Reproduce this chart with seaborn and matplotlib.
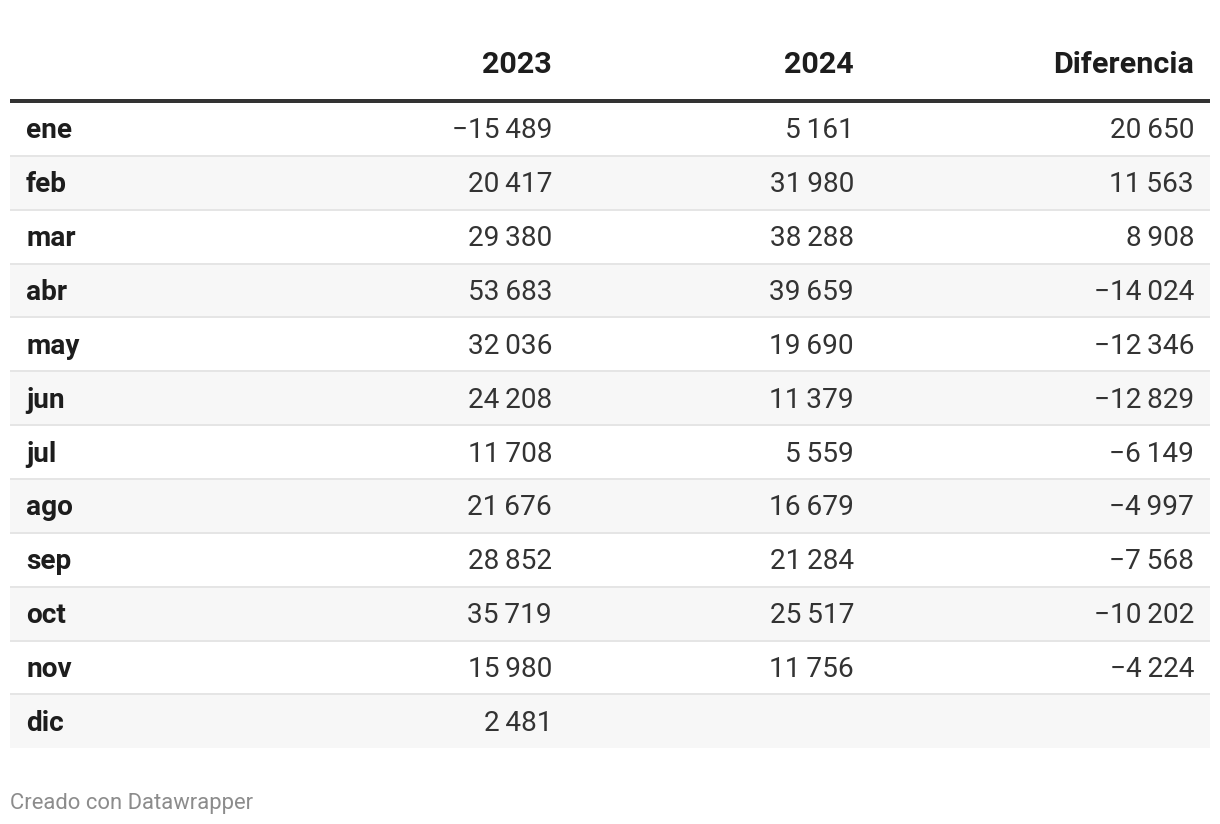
import matplotlib
matplotlib.use('Agg')
import matplotlib.pyplot as plt
import seaborn as sns
import numpy as np
from matplotlib.colors import ListedColormap

MONTHS = ["ene", "feb", "mar", "abr", "may", "jun", "jul", "ago", "sep", "oct", "nov", "dic"]
COLUMNS = ["2023", "2024", "Diferencia"]
VALUES_2023 = [-15489, 20417, 29380, 53683, 32036, 24208, 11708, 21676, 28852, 35719, 15980, 2481]
VALUES_2024 = [5161, 31980, 38288, 39659, 19690, 11379, 5559, 16679, 21284, 25517, 11756, None]
DIFFERENCE = [20650, 11563, 8908, -14024, -12346, -12829, -6149, -4997, -7568, -10202, -4224, None]
FOOTER = "Creado con Datawrapper"

W, H = 1220, 824
TABLE_LEFT, TABLE_RIGHT = 10, 1210
BODY_TOP, ROW_H = 102, 53.85
LABEL_X = 26
COL_RIGHT = [552, 854, 1194]
PX = 72 / 100  # points per pixel


def fmt(v):
    if v is None:
        return ""
    s = f"{abs(v):,}".replace(",", "\u2009")
    return ("\u2212" if v < 0 else "") + s


sns.set_theme(style="white")
plt.rcParams['font.family'] = ['Roboto', 'DejaVu Sans']

fig = plt.figure(figsize=(W / 100, H / 100), dpi=100)
fig.patch.set_facecolor("white")

n = len(MONTHS)
body_bottom = BODY_TOP + n * ROW_H

# striped row backgrounds via heatmap
body = fig.add_axes([TABLE_LEFT / W, 1 - body_bottom / H,
                     (TABLE_RIGHT - TABLE_LEFT) / W, n * ROW_H / H])
stripes = np.array([[i % 2] for i in range(n)])
sns.heatmap(stripes, ax=body, cmap=ListedColormap(["#ffffff", "#f7f7f7"]),
            cbar=False, xticklabels=False, yticklabels=False, vmin=0, vmax=1)
body.set_axis_off()

ax = fig.add_axes([0, 0, 1, 1])
ax.set_xlim(0, W)
ax.set_ylim(H, 0)
ax.set_axis_off()
ax.patch.set_alpha(0)

# header
header_y = 65
for name, xr in zip(COLUMNS, COL_RIGHT):
    ax.text(xr, header_y, name, ha="right", va="center", fontsize=30.5 * PX,
            fontweight="bold", color="#1d1d1d")
ax.plot([TABLE_LEFT, TABLE_RIGHT], [100.5, 100.5], color="#333333", lw=4 * PX,
        solid_capstyle="butt")

# rows
for i, m in enumerate(MONTHS):
    yc = BODY_TOP + (i + 0.5) * ROW_H + 2
    ax.text(LABEL_X, yc, m, ha="left", va="center", fontsize=28 * PX,
            fontweight="bold", color="#1d1d1d")
    for vals, xr in zip([VALUES_2023, VALUES_2024, DIFFERENCE], COL_RIGHT):
        ax.text(xr, yc, fmt(vals[i]), ha="right", va="center", fontsize=28 * PX,
                color="#333333")
    if i > 0:
        ys = BODY_TOP + i * ROW_H
        ax.plot([TABLE_LEFT, TABLE_RIGHT], [ys, ys], color="#e5e5e5", lw=2 * PX,
                solid_capstyle="butt")

ax.text(TABLE_LEFT, 803, FOOTER, ha="left", va="center", fontsize=22 * PX,
        color="#8c8c8c")

fig.savefig("out.png", dpi=100)
